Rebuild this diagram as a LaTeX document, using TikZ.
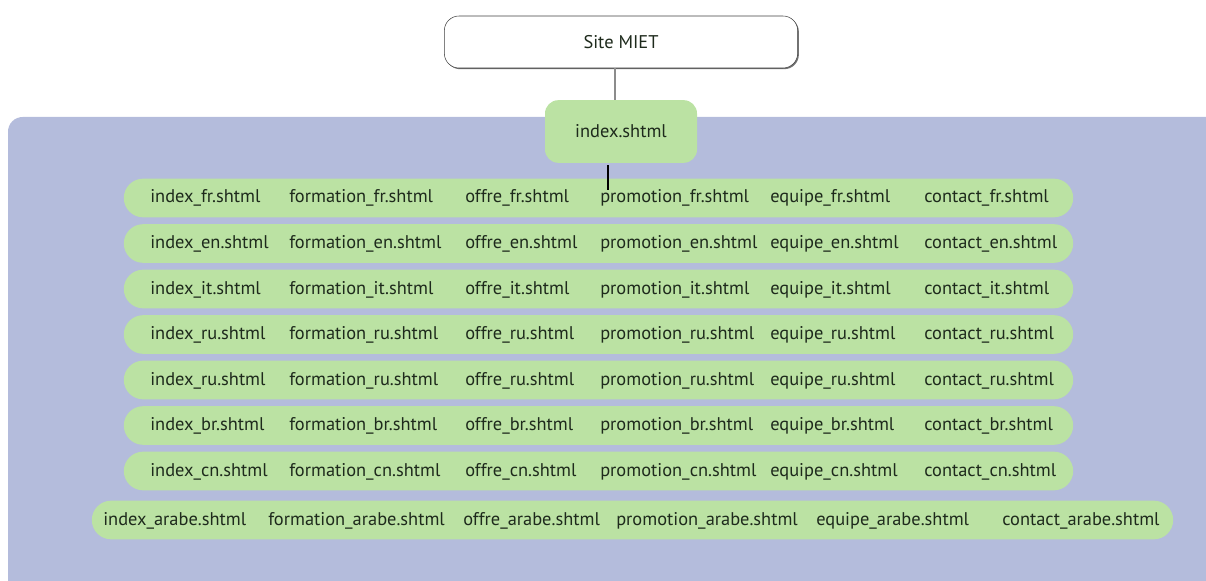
\documentclass[tikz,border=0pt]{standalone}
\usepackage{fontspec}
\setmainfont{PT Sans}
\usetikzlibrary{positioning}
\usetikzlibrary{shapes.misc}
\usetikzlibrary{shadows}
\definecolor{mietblue}{RGB}{180,188,220}
\definecolor{mietgreen}{RGB}{187,226,163}
\definecolor{miettext}{RGB}{30,42,28}
\tikzset{
  site box/.style={
    draw=black!75,
    fill=white,
    rounded corners=11pt,
    minimum width=265pt,
    minimum height=39pt,
    drop shadow={shadow xshift=0.9pt,shadow yshift=-0.9pt,fill=black!55,opacity=1},
  },
  index box/.style={
    fill=mietgreen,
    rounded corners=10pt,
    minimum width=114pt,
    minimum height=47pt,
  },
  pill/.style={
    rounded rectangle,
    fill=mietgreen,
    minimum height=29pt,
    inner sep=0pt,
  },
  file/.style={
    anchor=base west,
    inner sep=0pt,
    text=miettext,
    font=\fontsize{13.8pt}{15pt}\selectfont,
  }
}

\begin{document}
\begin{tikzpicture}[x=0.75pt,y=-0.75pt]
      \useasboundingbox (0,0) rectangle (1206,581);
      \fill[mietblue,rounded corners=11pt] (8,650) -- (8,117) -- (1270,117) -- (1270,650) -- cycle;
      \node[site box,text=miettext,font=\fontsize{13.8pt}{15pt}\selectfont] (site) at (621,42) {Site MIET};
      \node[index box,text=miettext,font=\fontsize{13.8pt}{15pt}\selectfont] (index) at (621,131.5) {index.shtml};
      \draw[black!45,line width=1.5pt] ([xshift=-4.5pt]site.south) -- ([xshift=-4.5pt]index.north);
      % one pill per language
      \foreach \lng/\yc [count=\r] in {fr/198,en/243.5,it/289,ru/334.5,ru/380,br/425.5,cn/471} {
        \node[pill,minimum width=712pt] (row\r) at (598.5,\yc) {};
        \foreach \pg/\xl in {index/150,formation/289,offre/465,promotion/600,equipe/770,contact/924}
          \node[file] (\pg\r) at (\xl,\yc+5) {\pg\_\lng.shtml};
      }
      \node[pill,minimum width=811pt] (row8) at (632.5,520) {};
      \foreach \pg/\xl in {index/103,formation/268,offre/463,promotion/616,equipe/816,contact/1002}
        \node[file] (\pg8) at (\xl,525) {\pg\_arabe.shtml};
      \coordinate (tick) at (608,190);
      \draw[black,line width=1.1pt] (index.south -| tick) ++(0,2) -- (tick);
      \end{tikzpicture}
\end{document}
